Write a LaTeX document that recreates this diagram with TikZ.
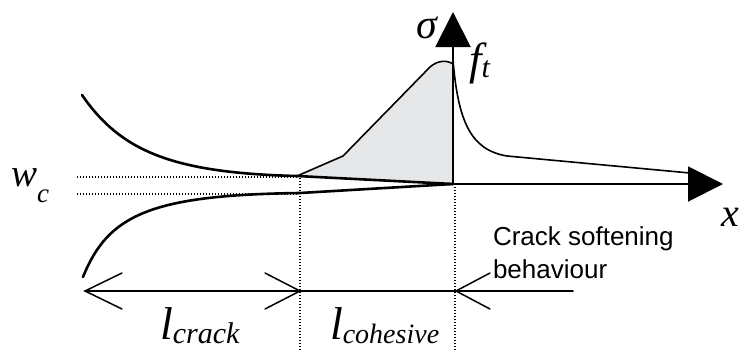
\documentclass[tikz,border=0pt]{standalone}
\usepackage{fontspec}
\setsansfont{Liberation Sans}
\newfontfamily\tnr{Liberation Serif}
\usetikzlibrary{arrows.meta}
\definecolor{cohfill}{RGB}{230,231,233}
\begin{document}
\begin{tikzpicture}[x=1pt,y=-1pt,
  face/.style={line width=2.6pt, line cap=round, line join=round},
  axisline/.style={line width=2pt, -{Triangle[length=35pt,width=35pt]}},
  dimline/.style={line width=1.5pt, line cap=round, line join=miter},
  guide/.style={line width=1.1pt, dash pattern=on 1.1pt off 1.9pt},
  stresscurve/.style={line width=1.6pt, line join=round, line cap=round},
  ilbl/.style={inner sep=0pt, outer sep=0pt, font=\tnr\itshape},
  slbl/.style={inner sep=0pt, outer sep=0pt, anchor=base west, font=\sffamily\fontsize{26}{33}\selectfont}]
\useasboundingbox (0,0) rectangle (740,351);

% key points
\coordinate (O) at (453,184);
\coordinate (ytip) at (453,12);
\coordinate (xtip) at (723,184);
\coordinate (tipU) at (297,176);
\coordinate (tipL) at (300,193);

% cohesive stress zone
\fill[cohfill] (tipU) -- (343,156) -- (430,67) .. controls (438,60) and (447,60) .. (453,64) -- (O) -- cycle;
\draw[stresscurve] (tipU) -- (343,156) -- (430,67) .. controls (438,60) and (447,60) .. (453,64);
% softening branch
\draw[stresscurve] (453,60) .. controls (458,120) and (470,150) .. (507,156) -- (690,173);

% guides
\draw[guide] (77,177) -- (298,177);
\draw[guide] (77,194) -- (298,194);
\draw[guide] (300,178) -- (300,351);
\draw[guide] (455,187) -- (455,351);

% crack faces
\draw[face] (82,95) .. controls (120,150) and (170,173) .. (tipU) -- (O);
\draw[face] (83,277) .. controls (108,215) and (150,195) .. (tipL) -- (O);

% axes
\draw[axisline] (O) -- (ytip);
\draw[axisline] (O) -- (xtip);

% dimension line
\coordinate (dA) at (85,291);
\coordinate (dB) at (300,291);
\coordinate (dC) at (456,291);
\coordinate (dD) at (573,291);
\draw[dimline] (dA) -- (dD);
\draw[dimline] (122,273) -- (dA) -- (122,309);
\draw[dimline] (265,273) -- (dB) -- (265,309);
\draw[dimline] (490,273) -- (dC) -- (490,309);

% labels
\node[ilbl, anchor=base] (sigma) at (427,38) {\fontsize{42}{42}\selectfont σ};
\node[ilbl, anchor=base west] (ft) at (469,74) {\fontsize{45}{45}\selectfont f\raisebox{-3pt}{\fontsize{30}{30}\selectfont t}};
\node[ilbl, anchor=base west] (xlab) at (721,226) {\fontsize{40}{40}\selectfont x};
\node[ilbl, anchor=base west] (wc) at (11,186) {\fontsize{39}{39}\selectfont w\raisebox{-16pt}{\fontsize{27}{27}\selectfont c}};
\node[ilbl, anchor=base west] (lcrack) at (160,339) {\fontsize{46}{46}\selectfont l\raisebox{-4pt}{\fontsize{30}{30}\selectfont crack}};
\node[ilbl, anchor=base west] (lcoh) at (330,339) {\fontsize{46}{46}\selectfont l\raisebox{-4pt}{\fontsize{28}{28}\selectfont cohesive}};
\node[slbl] (lbl1) at (493,245) {Crack softening};
\node[slbl] (lbl2) at (493,278) {behaviour};
\end{tikzpicture}
\end{document}
